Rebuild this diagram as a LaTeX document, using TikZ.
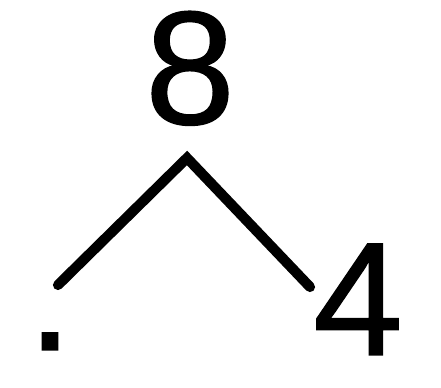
\documentclass[tikz,border=0pt]{standalone}
\usepackage{fontspec}
\setmainfont[FakeBold=0.8]{Liberation Sans}
\usetikzlibrary{positioning}
\newcommand{\bondfont}{\fontsize{46}{46}\selectfont}

\begin{document}
\begin{tikzpicture}[every node/.style={font=\bondfont, inner sep=0pt},
    bond/.style={line width=2.9pt, line cap=round}]
  \useasboundingbox (0,0) rectangle (4.41,3.88);
  \node[anchor=base] (whole) at (1.90,2.64) {8};
  \node[anchor=base] (partA) at (0.50,0.38) {.};
  \node[anchor=base] (partB) at (3.58,0.33) {4};
  \coordinate (top) at (1.87,2.30);
  \coordinate (leftend) at (0.58,1.03);
  \coordinate (rightend) at (3.10,1.01);
  \draw[bond] (leftend) -- (top) -- (rightend);
\end{tikzpicture}
\end{document}
